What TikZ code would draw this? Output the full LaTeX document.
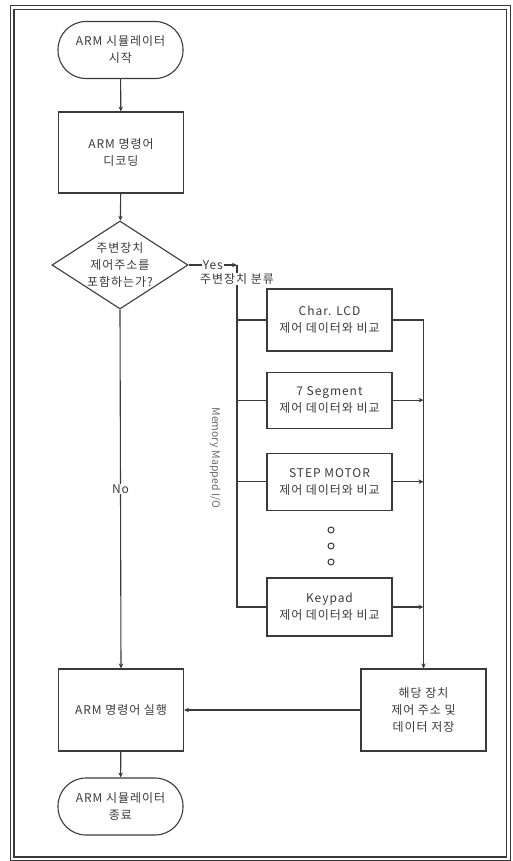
\documentclass[tikz,border=0pt]{standalone}
\usepackage{fontspec}
\setmainfont{Noto Sans CJK KR}[LetterSpace=8]
\newfontfamily\plainfont{Noto Sans CJK KR}
\usetikzlibrary{shapes.geometric, arrows.meta, positioning}
\definecolor{ink}{HTML}{3A3A3A}
\definecolor{muted}{HTML}{6A6A6A}

\begin{document}
\begin{tikzpicture}[
  x=1pt, y=-1pt,
  font=\fontsize{12}{17}\selectfont,
  box/.style={draw=ink, line width=1.1pt, minimum width=125pt, align=center, inner sep=2pt, text=ink},
  term/.style={box, rounded corners=28pt, minimum height=57pt},
  proc/.style={box, minimum height=81pt},
  dev/.style={box, minimum height=57pt},
  cond/.style={draw=ink, line width=1.1pt, diamond, aspect=1.55, inner sep=0pt, minimum width=136pt, minimum height=88pt, align=center, text=ink},
  dot/.style={draw=ink, line width=1pt, circle, minimum size=6pt, inner sep=0pt},
  tag/.style={fill=white, inner sep=1pt, text=ink},
  wire/.style={draw=ink, line width=1.1pt},
  arr/.style={wire, -{Stealth[length=5pt, width=4.5pt]}},
]
\useasboundingbox (0,0) rectangle (513,861);

% Frame
\draw[ink, line width=1.3pt] (10.5,5.5) rectangle (510.5,861);
\draw[ink, line width=1.3pt] (14,9.5) rectangle (506.5,857);

% Main flow
\node[term] (start) at (120.5,50) {ARM 시뮬레이터\\시작};
\node[proc] (decode) at (121,152.5) {ARM 명령어\\디코딩};
\node[cond] (check) at (120,265) {주변장치\\제어주소를\\포함하는가?};
\node[proc, minimum height=82pt] (exec) at (121,710) {ARM 명령어 실행};
\node[term] (stop) at (120.5,806.5) {ARM 시뮬레이터\\종료};

% Devices
\node[dev, minimum height=62pt] (lcd) at (329.5,320) {Char. LCD\\제어 데이터와 비교};
\node[dev, minimum height=56pt, below=20pt of lcd] (seg) {7 Segment\\제어 데이터와 비교};
\node[dev, below=24pt of seg] (motor) {STEP MOTOR\\제어 데이터와 비교};
\node[dev, minimum height=58pt] (keypad) at (329.5,607) {Keypad\\제어 데이터와 비교};
\foreach \i/\y in {1/530, 2/546, 3/562}
  \node[dot] (dot\i) at (331,\y) {};

\node[proc, minimum height=82pt] (store) at (423.5,710) {해당 장치\\제어 주소 및\\데이터 저장};

\coordinate (bus) at (237,265);
\node[rotate=-90, font=\plainfont\fontsize{10.5}{12}\selectfont, text=muted] (mmio) at (215,458) {Memory\hspace{3pt}Mapped\hspace{3pt}I/O};

% Arrows
\draw[arr] (start) -- (decode);
\draw[arr] (decode) -- (check);
\draw[arr] (check.east) -- node[tag] {Yes} (bus);
\draw[wire] (bus) |- (keypad.west);
\draw[wire] (bus |- lcd.west) -- (lcd.west);
\draw[wire] (bus |- seg.west) -- (seg.west);
\draw[wire] (bus |- motor.west) -- (motor.west);
\node[tag] (sort) at (237,279) {주변장치 분류};
\draw[arr] (lcd.east) -| (store.north);
\draw[arr] (seg.east) -- (seg.east -| store.north);
\draw[arr] (motor.east) -- (motor.east -| store.north);
\draw[arr] (keypad.east) -- (keypad.east -| store.north);
\draw[arr] (check.south) -- node[tag] {No} (exec.north);
\draw[arr] (store) -- (exec);
\draw[arr] (exec) -- (stop);

\end{tikzpicture}
\end{document}
